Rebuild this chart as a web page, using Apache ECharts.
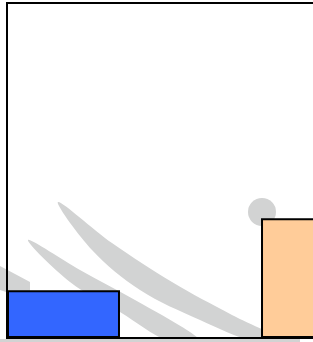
<!DOCTYPE html>
<html lang="en">
<head>
    <meta charset="utf-8">
    <title>bars</title>
    <script src="https://cdn.jsdelivr.net/npm/echarts@6/dist/echarts.min.js"></script>
    <style>
        html, body {margin: 0; padding: 0; background: #ffffff;}
        #chart {width: 313px; height: 342px;}
    </style>
</head>
<body>
<div id="chart"></div>
<script>
    // data
    var categories = ['A'];
    var seriesNames = ['blue', 'orange'];
    var blueValues = [1];
    var orangeValues = [2.5];
    var yMax = 7;

    var chart = echarts.init(document.getElementById('chart'));

    // faint grey swooshes behind the plot (background decoration)
    var swooshColor = '#d2d3d3';
    var decoration = [
        {
            type: 'polygon', z: -10, silent: true,
            shape: {
                smooth: 0.35,
                points: [[58, 202], [112, 243], [172, 282], [232, 315], [285, 342],
                    [255, 342], [200, 320], [140, 290], [92, 250]]
            },
            style: {fill: swooshColor}
        },
        {
            type: 'polygon', z: -10, silent: true,
            shape: {
                smooth: 0.35,
                points: [[28, 240], [80, 270], [135, 300], [190, 332], [200, 342],
                    [170, 342], [120, 312], [70, 282]]
            },
            style: {fill: swooshColor}
        },
        {
            type: 'polygon', z: -10, silent: true,
            shape: {
                points: [[0, 266], [30, 282], [30, 300], [0, 290]]
            },
            style: {fill: swooshColor}
        },
        {
            type: 'rect', z: -10, silent: true,
            shape: {x: 0, y: 339, width: 300, height: 3},
            style: {fill: swooshColor}
        },
        {
            type: 'circle', z: -10, silent: true,
            shape: {cx: 262, cy: 212, r: 14},
            style: {fill: swooshColor}
        }
    ];

    var option = {
        animation: false,
        graphic: decoration,
        grid: {
            left: 7,
            top: 3,
            width: 367,
            height: 335,
            outerBoundsMode: 'none',
            containLabel: false,
            show: true,
            borderColor: '#000000',
            borderWidth: 2,
            backgroundColor: 'transparent'
        },
        xAxis: {
            type: 'category',
            data: categories,
            axisLine: {show: false},
            axisTick: {show: false},
            axisLabel: {show: false}
        },
        yAxis: {
            type: 'value',
            min: 0,
            max: yMax,
            axisLine: {show: false},
            axisTick: {show: false},
            axisLabel: {show: false},
            splitLine: {show: false}
        },
        series: [
            {
                name: seriesNames[0],
                type: 'bar',
                data: blueValues,
                barWidth: 113,
                barGap: '124.8%',
                itemStyle: {color: '#3366ff', borderColor: '#000000', borderWidth: 2}
            },
            {
                name: seriesNames[1],
                type: 'bar',
                data: orangeValues,
                barWidth: 113,
                itemStyle: {color: '#ffcc99', borderColor: '#000000', borderWidth: 2}
            }
        ]
    };
    chart.setOption(option);
</script>
</body>
</html>
